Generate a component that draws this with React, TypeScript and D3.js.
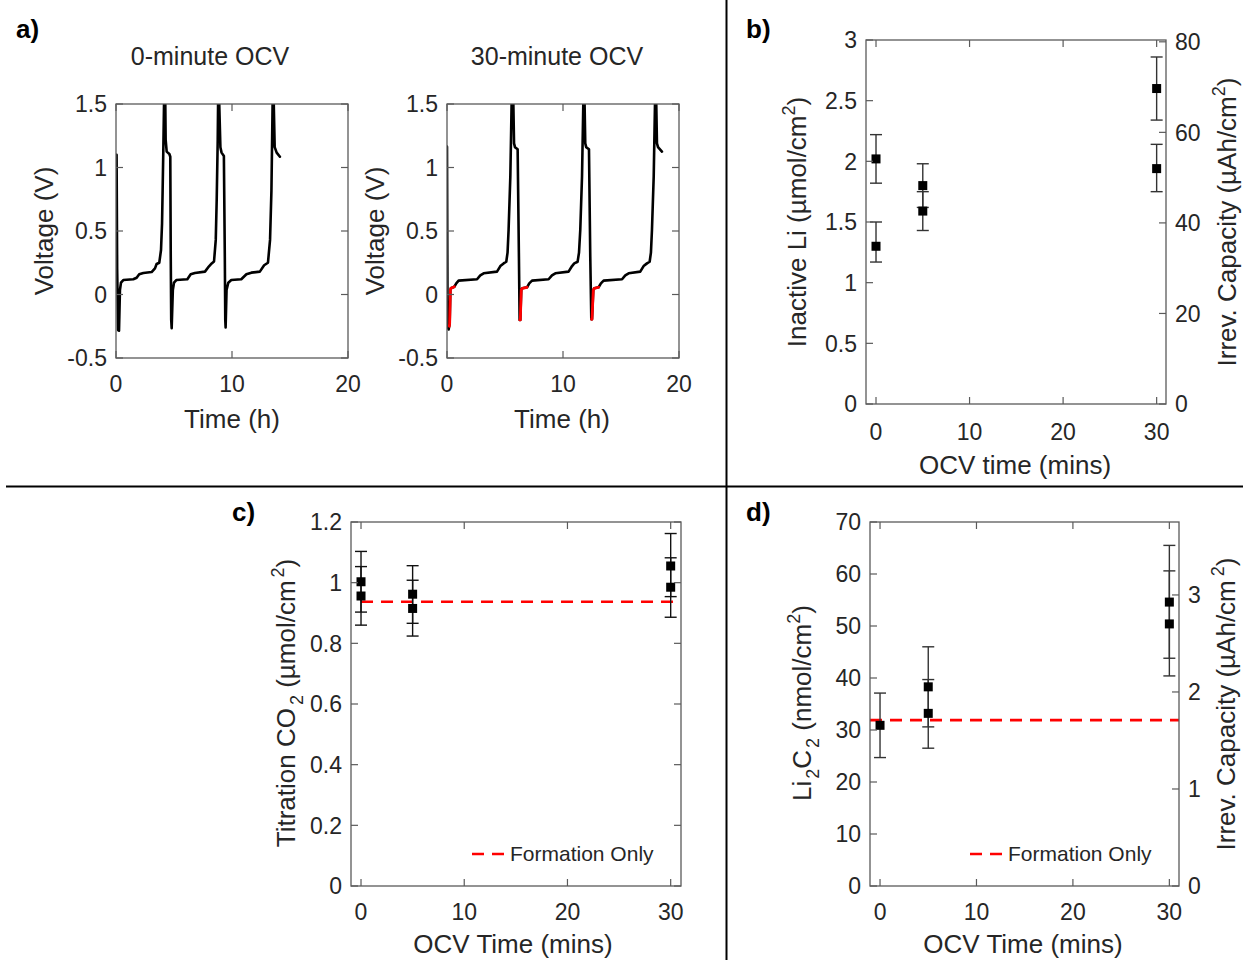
import React from 'react';
import * as d3 from 'd3';

const FONT = '"Liberation Sans", Arial, Helvetica, sans-serif';
const TEXT = '#262626';
const AXIS = '#5a5a5a';

// ---------- Panel a data: voltage (V) vs time (h) ----------
const voltTicks = [-0.5, 0, 0.5, 1, 1.5];
const timeTicksA = [0, 10, 20];

const ocv0Curve: [number, number][] = [
  [0.05, 1.1], [0.1, 0.2], [0.18, -0.28], [0.26, -0.285], [0.34, 0.035], [0.43, 0.093], [0.63, 0.114],
  [1.49, 0.12], [1.78, 0.132], [2.0, 0.159], [2.36, 0.169], [3.07, 0.177], [3.36, 0.206], [3.5, 0.24],
  [3.73, 0.25], [3.88, 0.35], [3.97, 0.56], [4.02, 0.82], [4.08, 1.14], [4.14, 1.5], [4.18, 1.9],
  [4.25, 1.5], [4.28, 1.22], [4.37, 1.125], [4.6, 1.106], [4.68, 1.085], [4.72, 0.3], [4.76, -0.2],
  [4.8, -0.266], [4.9, 0.035], [5.0, 0.093], [5.2, 0.114], [6.15, 0.12], [6.44, 0.159], [6.8, 0.169],
  [7.67, 0.18], [8.0, 0.22], [8.25, 0.245], [8.45, 0.26], [8.6, 0.43], [8.68, 0.74], [8.77, 1.22],
  [8.8, 1.5], [8.84, 1.9], [8.9, 1.5], [9.0, 1.16], [9.1, 1.117], [9.3, 1.09], [9.38, 0.3], [9.42, -0.2],
  [9.45, -0.26], [9.53, 0.035], [9.68, 0.093], [9.94, 0.114], [10.8, 0.12], [11.24, 0.159], [11.67, 0.172],
  [12.4, 0.18], [12.77, 0.23], [13.1, 0.25], [13.28, 0.43], [13.4, 0.82], [13.5, 1.5], [13.54, 1.9],
  [13.6, 1.5], [13.68, 1.16], [13.85, 1.117], [14.13, 1.085],
];

const ocv30Curve: [number, number][] = [
  [0.0, 1.164], [0.05, -0.25], [0.14, -0.275], [0.23, -0.227], [0.29, 0.035], [0.34, 0.049], [0.63, 0.061],
  [0.8, 0.088], [1.0, 0.109], [2.59, 0.12], [2.87, 0.151], [3.16, 0.167], [4.31, 0.18], [4.6, 0.224],
  [4.88, 0.245], [5.11, 0.258], [5.22, 0.33], [5.31, 0.51], [5.46, 0.93], [5.57, 1.5], [5.62, 1.9],
  [5.72, 1.5], [5.78, 1.19], [5.86, 1.16], [6.09, 1.143], [6.2, 0.3], [6.26, -0.2], [6.32, -0.2],
  [6.4, 0.035], [6.49, 0.049], [6.9, 0.057], [7.09, 0.088], [7.33, 0.109], [8.76, 0.12], [9.05, 0.151],
  [9.34, 0.167], [10.48, 0.18], [10.78, 0.224], [10.97, 0.245], [11.26, 0.258], [11.38, 0.33], [11.49, 0.51],
  [11.64, 0.93], [11.75, 1.5], [11.8, 1.9], [11.86, 1.5], [11.92, 1.19], [12.0, 1.16], [12.24, 1.143],
  [12.35, 0.3], [12.44, -0.195], [12.5, -0.195], [12.61, 0.035], [12.7, 0.049], [13.07, 0.057],
  [13.27, 0.088], [13.5, 0.109], [15.09, 0.12], [15.37, 0.151], [15.66, 0.167], [16.66, 0.18],
  [16.95, 0.224], [17.24, 0.245], [17.47, 0.258], [17.58, 0.33], [17.67, 0.51], [17.82, 0.93], [17.93, 1.5],
  [17.98, 1.9], [18.04, 1.5], [18.1, 1.19], [18.19, 1.16], [18.53, 1.125],
];

const ocv30Red1: [number, number][] = [[0.2, -0.25], [0.23, -0.227], [0.29, 0.035], [0.34, 0.049], [0.63, 0.061]];
const ocv30Red2: [number, number][] = [[6.28, -0.2], [6.32, -0.2], [6.4, 0.035], [6.49, 0.049], [6.9, 0.057]];
const ocv30Red3: [number, number][] = [[12.46, -0.195], [12.5, -0.195], [12.61, 0.035], [12.7, 0.049], [13.07, 0.057]];

// ---------- Panel b data ----------
const ocvTicks = [0, 10, 20, 30];
const inactiveTicks = [0, 0.5, 1, 1.5, 2, 2.5, 3];
const irrevTicksB = [0, 20, 40, 60, 80];
const irrevMaxB = 80.4;
const inactiveTime = [0, 0, 5, 5, 30, 30];
const inactiveValue = [2.02, 1.3, 1.8, 1.59, 2.6, 1.94];
const inactiveLow = [1.82, 1.17, 1.62, 1.43, 2.34, 1.75];
const inactiveHigh = [2.22, 1.5, 1.98, 1.75, 2.86, 2.14];

// ---------- Panel c data ----------
const co2Ticks = [0, 0.2, 0.4, 0.6, 0.8, 1, 1.2];
const co2Time = [0, 0, 5, 5, 30, 30];
const co2Value = [1.003, 0.956, 0.962, 0.915, 1.055, 0.985];
const co2Low = [0.903, 0.86, 0.866, 0.824, 0.954, 0.886];
const co2High = [1.103, 1.053, 1.056, 1.008, 1.162, 1.082];
const co2Formation = 0.937;

// ---------- Panel d data ----------
const licTicks = [0, 10, 20, 30, 40, 50, 60, 70];
const irrevTicksD = [0, 1, 2, 3];
const irrevMaxD = 3.752;
const licTime = [0, 5, 5, 30, 30];
const licValue = [30.9, 38.3, 33.2, 54.6, 50.4];
const licLow = [24.7, 30.6, 26.5, 43.8, 40.4];
const licHigh = [37.1, 46.0, 39.7, 65.5, 60.6];
const licFormation = 31.9;

type Box = { left: number; right: number; top: number; bottom: number };

const TICK = 7;

function Frame(props: {
  box: Box;
  x: d3.ScaleLinear<number, number>;
  y: d3.ScaleLinear<number, number>;
  xTicks: number[];
  yTicks: number[];
  yR?: d3.ScaleLinear<number, number>;
  yRTicks?: number[];
  xLabelDy: number;
}) {
  const { box, x, y, xTicks, yTicks, yR, yRTicks, xLabelDy } = props;
  const els: any[] = [];
  xTicks.forEach((t, i) => {
    const px = x(t);
    els.push(<line key={'xb' + i} x1={px} x2={px} y1={box.bottom} y2={box.bottom - TICK} stroke={AXIS} strokeWidth={1.2} />);
    els.push(<line key={'xt' + i} x1={px} x2={px} y1={box.top} y2={box.top + TICK} stroke={AXIS} strokeWidth={1.2} />);
    els.push(
      <text key={'xl' + i} x={px} y={box.bottom + xLabelDy} textAnchor="middle" fontSize={23} fill={TEXT}>
        {String(t)}
      </text>
    );
  });
  yTicks.forEach((t, i) => {
    const py = y(t);
    els.push(<line key={'yl' + i} x1={box.left} x2={box.left + TICK} y1={py} y2={py} stroke={AXIS} strokeWidth={1.2} />);
    if (!yR) {
      els.push(<line key={'yr' + i} x1={box.right} x2={box.right - TICK} y1={py} y2={py} stroke={AXIS} strokeWidth={1.2} />);
    }
    els.push(
      <text key={'ytl' + i} x={box.left - 9} y={py} dy="0.36em" textAnchor="end" fontSize={23} fill={TEXT}>
        {String(t)}
      </text>
    );
  });
  if (yR && yRTicks) {
    yRTicks.forEach((t, i) => {
      const py = yR(t);
      els.push(<line key={'yR' + i} x1={box.right} x2={box.right - TICK} y1={py} y2={py} stroke={AXIS} strokeWidth={1.2} />);
      els.push(
        <text key={'yRl' + i} x={box.right + 9} y={py} dy="0.36em" textAnchor="start" fontSize={23} fill={TEXT}>
          {String(t)}
        </text>
      );
    });
  }
  els.push(
    <rect key="frame" x={box.left} y={box.top} width={box.right - box.left} height={box.bottom - box.top}
      fill="none" stroke={AXIS} strokeWidth={1.3} />
  );
  return <g>{els}</g>;
}

function ErrorPoints(props: {
  x: d3.ScaleLinear<number, number>;
  y: d3.ScaleLinear<number, number>;
  xs: number[];
  vs: number[];
  lo: number[];
  hi: number[];
  color: string;
}) {
  const { x, y, xs, vs, lo, hi, color } = props;
  return (
    <g>
      {xs.map((t, i) => {
        const px = x(t);
        return (
          <g key={i}>
            <line x1={px} x2={px} y1={y(lo[i])} y2={y(hi[i])} stroke={color} strokeWidth={1.4} />
            <line x1={px - 6} x2={px + 6} y1={y(lo[i])} y2={y(lo[i])} stroke={color} strokeWidth={1.4} />
            <line x1={px - 6} x2={px + 6} y1={y(hi[i])} y2={y(hi[i])} stroke={color} strokeWidth={1.4} />
          </g>
        );
      })}
      {xs.map((t, i) => (
        <rect key={'m' + i} x={x(t) - 4.5} y={y(vs[i]) - 4.5} width={9} height={9} fill="#000" />
      ))}
    </g>
  );
}

function VoltagePanel(props: { box: Box; curve: [number, number][]; reds: [number, number][][]; id: string }) {
  const { box, curve, reds, id } = props;
  const x = d3.scaleLinear().domain([0, 20]).range([box.left, box.right]);
  const y = d3.scaleLinear().domain([-0.5, 1.5]).range([box.bottom, box.top]);
  const line = d3.line<[number, number]>().x((d) => x(d[0])).y((d) => y(d[1]));
  return (
    <g>
      <defs>
        <clipPath id={id}>
          <rect x={box.left} y={box.top} width={box.right - box.left} height={box.bottom - box.top} />
        </clipPath>
      </defs>
      <g clipPath={`url(#${id})`}>
        <path d={line(curve) || ''} fill="none" stroke="#000" strokeWidth={2.6} strokeLinejoin="round" strokeLinecap="round" />
        {reds.map((r, i) => (
          <path key={i} d={line(r) || ''} fill="none" stroke="#ff0000" strokeWidth={2.8} strokeLinejoin="round" strokeLinecap="round" />
        ))}
      </g>
      <Frame box={box} x={x} y={y} xTicks={timeTicksA} yTicks={voltTicks} xLabelDy={34} />
    </g>
  );
}

export default function App() {
  const boxA1: Box = { left: 116, right: 348, top: 104, bottom: 358 };
  const boxA2: Box = { left: 447, right: 679, top: 104, bottom: 358 };
  const boxB: Box = { left: 866, right: 1166, top: 40, bottom: 404 };
  const boxC: Box = { left: 351, right: 681, top: 522, bottom: 886 };
  const boxD: Box = { left: 870, right: 1179, top: 522, bottom: 886 };

  const xB = d3.scaleLinear().domain([-1.07, 31]).range([boxB.left, boxB.right]);
  const yB = d3.scaleLinear().domain([0, 3]).range([boxB.bottom, boxB.top]);
  const yBR = d3.scaleLinear().domain([0, irrevMaxB]).range([boxB.bottom, boxB.top]);

  const xC = d3.scaleLinear().domain([-0.97, 31]).range([boxC.left, boxC.right]);
  const yC = d3.scaleLinear().domain([0, 1.2]).range([boxC.bottom, boxC.top]);

  const xD = d3.scaleLinear().domain([-1.04, 31]).range([boxD.left, boxD.right]);
  const yD = d3.scaleLinear().domain([0, 70]).range([boxD.bottom, boxD.top]);
  const yDR = d3.scaleLinear().domain([0, irrevMaxD]).range([boxD.bottom, boxD.top]);

  const sup = (s: string) => (
    <tspan fontSize={18} dy={-11}>{s}</tspan>
  );

  return (
    <svg width={1243} height={960} style={{ position: 'absolute', left: 0, top: 0, background: '#fff' }}
      fontFamily={FONT}>
      <rect x={0} y={0} width={1243} height={960} fill="#fff" />
      {/* dividers */}
      <line x1={726.5} x2={726.5} y1={0} y2={960} stroke="#000" strokeWidth={2} />
      <line x1={6} x2={1243} y1={486.5} y2={486.5} stroke="#000" strokeWidth={2} />

      {/* panel letters */}
      <text x={16} y={38} fontSize={26} fontWeight="bold" fill="#000">a)</text>
      <text x={746} y={38} fontSize={26} fontWeight="bold" fill="#000">b)</text>
      <text x={232} y={521} fontSize={26} fontWeight="bold" fill="#000">c)</text>
      <text x={746} y={521} fontSize={26} fontWeight="bold" fill="#000">d)</text>

      {/* Panel a */}
      <text x={210} y={65} textAnchor="middle" fontSize={25} fill={TEXT}>0-minute OCV</text>
      <text x={557} y={65} textAnchor="middle" fontSize={25} fill={TEXT}>30-minute OCV</text>
      <VoltagePanel box={boxA1} curve={ocv0Curve} reds={[]} id="clipA1" />
      <VoltagePanel box={boxA2} curve={ocv30Curve} reds={[ocv30Red1, ocv30Red2, ocv30Red3]} id="clipA2" />
      <text x={232} y={428} textAnchor="middle" fontSize={26} fill={TEXT}>Time (h)</text>
      <text x={562} y={428} textAnchor="middle" fontSize={26} fill={TEXT}>Time (h)</text>
      <text transform="translate(53,231) rotate(-90)" textAnchor="middle" fontSize={26} fill={TEXT}>Voltage (V)</text>
      <text transform="translate(384,231) rotate(-90)" textAnchor="middle" fontSize={26} fill={TEXT}>Voltage (V)</text>

      {/* Panel b */}
      <ErrorPoints x={xB} y={yB} xs={inactiveTime} vs={inactiveValue} lo={inactiveLow} hi={inactiveHigh} color="#333" />
      <Frame box={boxB} x={xB} y={yB} xTicks={ocvTicks} yTicks={inactiveTicks} yR={yBR} yRTicks={irrevTicksB} xLabelDy={36} />
      <text x={1015} y={474} textAnchor="middle" fontSize={26} fill={TEXT}>OCV time (mins)</text>
      <text transform="translate(806,222) rotate(-90)" textAnchor="middle" fontSize={26} fill={TEXT}>
        Inactive Li (µmol/cm{sup('2')}<tspan dy={11}>)</tspan>
      </text>
      <text transform="translate(1236,222) rotate(-90)" textAnchor="middle" fontSize={26} fill={TEXT}>
        Irrev. Capacity (µAh/cm{sup('2')}<tspan dy={11}>)</tspan>
      </text>

      {/* Panel c */}
      <line x1={xC(0)} x2={boxC.right} y1={yC(co2Formation)} y2={yC(co2Formation)} stroke="#ff0000" strokeWidth={2.6} strokeDasharray="12,8" />
      <ErrorPoints x={xC} y={yC} xs={co2Time} vs={co2Value} lo={co2Low} hi={co2High} color="#111" />
      <Frame box={boxC} x={xC} y={yC} xTicks={ocvTicks} yTicks={co2Ticks} xLabelDy={34} />
      <line x1={472} x2={505} y1={854} y2={854} stroke="#ff0000" strokeWidth={2.6} strokeDasharray="12,8" />
      <text x={510} y={861} fontSize={21} fill={TEXT}>Formation Only</text>
      <text x={513} y={953} textAnchor="middle" fontSize={26} fill={TEXT}>OCV Time (mins)</text>
      <text transform="translate(295,703) rotate(-90)" textAnchor="middle" fontSize={26} fill={TEXT}>
        Titration CO<tspan fontSize={18} dx={3} dy={8}>2</tspan><tspan dy={-8}> (µmol/cm</tspan>
        <tspan fontSize={18} dx={3} dy={-11}>2</tspan><tspan dy={11}>)</tspan>
      </text>

      {/* Panel d */}
      <line x1={boxD.left} x2={boxD.right} y1={yD(licFormation)} y2={yD(licFormation)} stroke="#ff0000" strokeWidth={2.6} strokeDasharray="12,8" />
      <ErrorPoints x={xD} y={yD} xs={licTime} vs={licValue} lo={licLow} hi={licHigh} color="#333" />
      <Frame box={boxD} x={xD} y={yD} xTicks={ocvTicks} yTicks={licTicks} yR={yDR} yRTicks={irrevTicksD} xLabelDy={34} />
      <line x1={970} x2={1004} y1={854} y2={854} stroke="#ff0000" strokeWidth={2.6} strokeDasharray="12,8" />
      <text x={1008} y={861} fontSize={21} fill={TEXT}>Formation Only</text>
      <text x={1023} y={953} textAnchor="middle" fontSize={26} fill={TEXT}>OCV Time (mins)</text>
      <text transform="translate(811,703) rotate(-90)" textAnchor="middle" fontSize={26} fill={TEXT}>
        Li<tspan fontSize={18} dx={2} dy={8}>2</tspan><tspan dy={-8}>C</tspan>
        <tspan fontSize={18} dx={2} dy={8}>2</tspan><tspan dy={-8}> (nmol/cm</tspan>
        <tspan fontSize={18} dy={-11}>2</tspan><tspan dy={11}>)</tspan>
      </text>
      <text transform="translate(1235,704) rotate(-90)" textAnchor="middle" fontSize={26} fill={TEXT}>
        Irrev. Capacity (µAh/cm<tspan fontSize={18} dx={4} dy={-11}>2</tspan><tspan dy={11}>)</tspan>
      </text>
    </svg>
  );
}
